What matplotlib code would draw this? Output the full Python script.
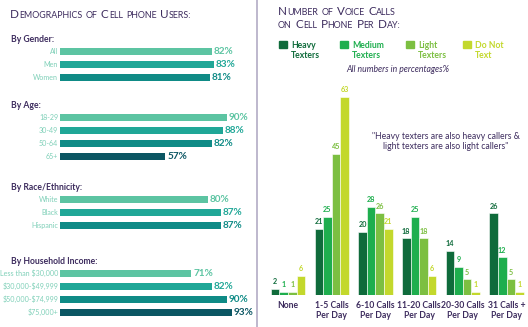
import matplotlib
matplotlib.use("Agg")
import matplotlib.pyplot as plt
from matplotlib.patches import Rectangle

plt.rcParams["font.family"] = ["Lato", "DejaVu Sans"]

# ---------------- data ----------------
gender_labels = ["All", "Men", "Women"]
gender_values = [82, 83, 81]
age_labels = ["18-29", "30-49", "50-64", "65+"]
age_values = [90, 88, 82, 57]
race_labels = ["White", "Black", "Hispanic"]
race_values = [80, 87, 87]
income_labels = ["Less than $30,000", "$30,000-$49,999", "$50,000-$74,999", "$75,000+"]
income_values = [71, 82, 90, 93]

call_categories = ["None", "1-5 Calls\nPer Day", "6-10 Calls\nPer Day",
                   "11-20 Calls\nPer Day", "20-30 Calls\nPer Day", "31 Calls +\nPer Day"]
texter_groups = ["Heavy\nTexters", "Medium\nTexters", "Light\nTexters", "Do Not\nText"]
heavy_texters = [2, 21, 20, 18, 14, 26]
medium_texters = [1, 25, 28, 25, 9, 12]
light_texters = [1, 45, 26, 18, 5, 5]
non_texters = [6, 63, 21, 6, 1, 1]

# ---------------- style ----------------
W, H, DPI = 528, 327, 100
PURPLE = "#3d2c5e"
TEALS = ["#5cc4a2", "#20a797", "#0f8b86", "#0b5663"]
LABEL_TEAL = "#7fd0b8"
GREENS = ["#0f6b3b", "#1eae4e", "#7cbf41", "#c3d82c"]

fig = plt.figure(figsize=(W / DPI, H / DPI), dpi=DPI)
fig.patch.set_facecolor("white")
renderer = fig.canvas.get_renderer()


def px_axes(x0, y0, x1, y1):
    """Axes placed by pixel box (top-left origin)."""
    return fig.add_axes([x0 / W, 1 - y1 / H, (x1 - x0) / W, (y1 - y0) / H])


def small_caps(x, y, text, big, small, color, space=3.0):
    """Draw text in small caps at pixel position (x, baseline y):
    capitals stay large, lower-case letters become small capitals."""
    cx = x
    for w, word in enumerate(text.split(" ")):
        if w:
            cx += space
        runs = []
        for ch in word:
            size = big if ch.isupper() else small
            if runs and runs[-1][1] == size:
                runs[-1][0] += ch
            else:
                runs.append([ch, size])
        for s, size in runs:
            t = fig.text(cx / W, 1 - y / H, s.upper(), fontsize=size, color=color,
                         ha="left", va="baseline", parse_math=False)
            cx += t.get_window_extent(renderer).width + 0.3


# ---------------- left panel: demographics ----------------
PX_PER_PCT = 1.85
BAR_X0 = 60
axL = px_axes(0, 0, 256, H)
axL.set_xlim(-BAR_X0 / PX_PER_PCT, (256 - BAR_X0) / PX_PER_PCT)
axL.set_ylim(H, 0)
axL.axis("off")

small_caps(10, 18, "Demographics of Cell phone Users:", 8.4, 6.4, PURPLE)

sections = [
    ("By Gender:", gender_labels, gender_values, 51),
    ("By Age:", age_labels, age_values, 117),
    ("By Race/Ethnicity:", race_labels, race_values, 199.5),
    ("By Household Income:", income_labels, income_values, 273),
]
ROW = 13.1
for header, labels, values, first in sections:
    axL.text(-BAR_X0 / PX_PER_PCT + 11 / PX_PER_PCT, first - 12, header,
             fontsize=6.2, fontweight="bold", color=PURPLE, va="center", ha="left")
    for i, (lab, val) in enumerate(zip(labels, values)):
        y = first + i * ROW
        col = TEALS[i]
        axL.barh(y, val, height=7, left=0, color=col, edgecolor="none")
        axL.text(-1.0, y, lab, fontsize=5.1, color=LABEL_TEAL, ha="right",
                 va="center", parse_math=False)
        axL.text(val + 1.0, y, f"{val}%", fontsize=7.2, fontweight="bold",
                 color=col, ha="left", va="center")

# separator
fig.add_artist(plt.Line2D([256.5 / W, 256.5 / W], [0, 1], color="#b9b2c9", lw=1.3))

# ---------------- right panel: voice calls ----------------
small_caps(278, 15, "Number of Voice Calls", 8.4, 6.4, PURPLE)
small_caps(278, 27.5, "on Cell Phone Per Day:", 8.4, 6.4, PURPLE)

legend_x = [279, 340, 406, 463]
for lx, name, col in zip(legend_x, texter_groups, GREENS):
    fig.add_artist(Rectangle((lx / W, 1 - 48 / H), 7.5 / W, 7.5 / H,
                             transform=fig.transFigure, color=col))
    fig.text((lx + 12) / W, 1 - 40.5 / H, name, fontsize=6.2, fontweight="bold",
             color=col, ha="left", va="top", linespacing=1.15)

fig.text(398 / W, 1 - 70 / H, "All numbers in percentages%", fontsize=6.2,
         style="italic", color=PURPLE, ha="center", va="center")
fig.text(446 / W, 1 - 141.5 / H,
         "\"Heavy texters are also heavy callers &\nlight texters are also light callers\"",
         fontsize=6.2, color=PURPLE, ha="center", va="center", linespacing=1.2)

GROUP_PX = 43.7
UNIT_PX = 3.14
BASE_Y = 295
first_center = 288
axR = px_axes(262, 80, W, BASE_Y)
axR.set_xlim(-(first_center - 262) / GROUP_PX, (W - first_center) / GROUP_PX)
axR.set_ylim(0, (BASE_Y - 80) / UNIT_PX)
for s in axR.spines.values():
    s.set_visible(False)
axR.set_yticks([])

series = [heavy_texters, medium_texters, light_texters, non_texters]
bw = 8.6 / GROUP_PX
for k, (vals, col) in enumerate(zip(series, GREENS)):
    xs = [g + (k - 1.5) * bw for g in range(len(call_categories))]
    axR.bar(xs, vals, width=bw, color=col, edgecolor="white", linewidth=0.4)
    for x, v in zip(xs, vals):
        axR.text(x, v + 1.2, str(v), fontsize=5.2, fontweight="bold",
                 color=col, ha="center", va="bottom")

axR.set_xticks(range(len(call_categories)))
axR.set_xticklabels(call_categories, fontsize=6.2, fontweight="bold",
                    color=PURPLE, linespacing=1.2)
axR.tick_params(axis="x", length=0, pad=4)
axR.set_facecolor("none")

fig.savefig("out.png", dpi=DPI, facecolor="white")
